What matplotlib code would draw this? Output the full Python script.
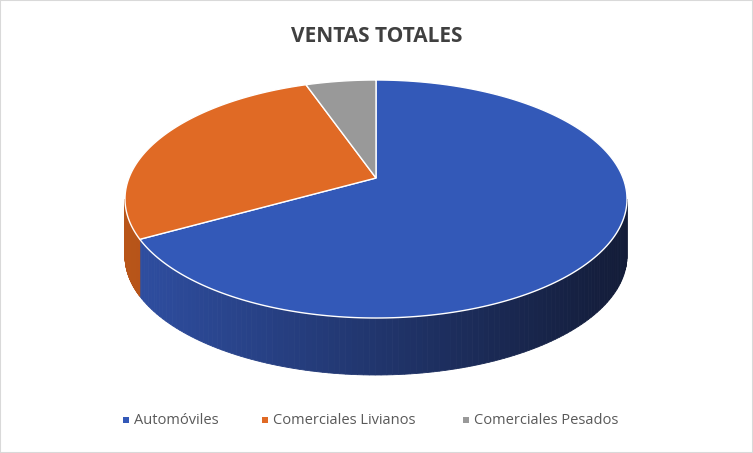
import numpy as np
import matplotlib.pyplot as plt
from matplotlib.patches import Polygon, Rectangle
from matplotlib.colors import to_rgb

categorias = ["Automóviles", "Comerciales Livianos", "Comerciales Pesados"]
valores = [69.5, 26.0, 4.5]
colores = ["#3359B8", "#E06A25", "#999999"]

W, H = 753, 453
fig = plt.figure(figsize=(W / 100, H / 100), dpi=100)
ax = fig.add_axes([0, 0, 1, 1])
ax.set_xlim(0, W)
ax.set_ylim(H, 0)
ax.axis("off")
fig.patches.append(Rectangle((0, 0), 1, 1, transform=fig.transFigure, fill=False,
                             edgecolor="#D9D9D9", lw=1.5))

cx, cy, rx, ry = 376, 199, 251, 119
vx, vy = 376, 178
depth = 57


def punto(t):
    # t: angulo en grados, sentido horario desde arriba
    r = np.radians(t)
    return cx + rx * np.sin(r), cy - ry * np.cos(r)


fracs = np.array(valores) / sum(valores)
limites = np.concatenate([[0], np.cumsum(fracs) * 360])

# caras laterales (solo la mitad frontal, 90..270)
oscuros = {0: ("#2F4FA3", "#131C38"), 1: ("#B85519", "#8A3E10"), 2: ("#707070", "#505050")}
for i in range(len(valores)):
    a0, a1 = max(limites[i], 90), min(limites[i + 1], 270)
    if a1 <= a0:
        continue
    ts = np.linspace(a0, a1, 120)
    c_izq, c_der = np.array(to_rgb(oscuros[i][0])), np.array(to_rgb(oscuros[i][1]))
    for k in range(len(ts) - 1):
        x0, y0 = punto(ts[k])
        x1, y1 = punto(ts[k + 1])
        # más claro a la izquierda, más oscuro a la derecha
        f = (x0 - (cx - rx)) / (2 * rx)
        col = c_izq * (1 - f) + c_der * f
        ax.add_patch(Polygon([(x0, y0), (x1, y1), (x1, y1 + depth), (x0, y0 + depth)],
                             closed=True, facecolor=col, edgecolor=col, lw=0.6))

# cara superior
for i in range(len(valores)):
    ts = np.linspace(limites[i], limites[i + 1], 200)
    pts = [(vx, vy)] + [punto(t) for t in ts]
    ax.add_patch(Polygon(pts, closed=True, facecolor=colores[i], edgecolor="white", lw=1))

ax.text(W / 2, 36, "VENTAS TOTALES", ha="center", va="center", fontsize=15,
        fontweight="bold", color="#404040", family="Open Sans")

# leyenda
xs = [126, 265, 466]
for x, cat, col in zip(xs, categorias, colores):
    ax.add_patch(Rectangle((x - 3, 417), 6, 6, facecolor=col, edgecolor="none"))
    ax.text(x + 8, 420, cat, ha="left", va="center", fontsize=10.5, color="#595959",
            family="Open Sans")

fig.savefig("out.png", dpi=100)
